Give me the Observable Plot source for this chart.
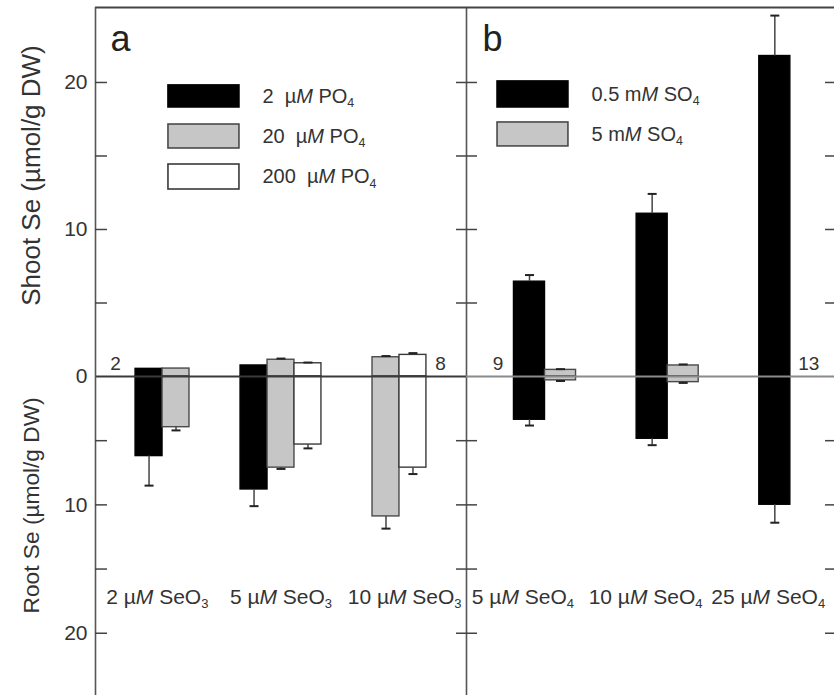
<!DOCTYPE html>
<html><head><meta charset="utf-8">
<script src="https://cdn.jsdelivr.net/npm/d3@7"></script>
<script src="https://cdn.jsdelivr.net/npm/@observablehq/plot@0.6"></script>
<style>
body{margin:0;background:#fff;}
#chart{position:relative;width:834px;height:695px;overflow:hidden;}
#chart svg{position:absolute;top:0;}
</style></head><body><div id="chart"></div>
<script>
// ---------------- data ----------------
// Panel a: selenite treatments x phosphate levels
const groupsA = ["2 µM SeO₃", "5 µM SeO₃", "10 µM SeO₃"];
const seriesA = ["2\u00a0 µM PO₄", "20\u00a0 µM PO₄", "200\u00a0 µM PO₄"];
// [series][group], null = no bar
const shootA    = [[0.52, 0.75, null], [0.54, 1.14, 1.31], [null, 0.90, 1.47]];
const shootA_se = [[0, 0, null],       [0, 0.08, 0.08],    [null, 0.05, 0.12]];
const rootA     = [[6.2, 8.8, null],   [3.95, 7.1, 10.9],  [null, 5.3, 7.1]];
const rootA_se  = [[2.3, 1.3, null],   [0.25, 0.1, 0.95],  [null, 0.3, 0.5]];
const countsA   = ["2", "8"];

// Panel b: selenate treatments x sulfate levels
const groupsB = ["5 µM SeO₄", "10 µM SeO₄", "25 µM SeO₄"];
const seriesB = ["0.5 mM SO₄", "5 mM SO₄"];
const shootB    = [[6.45, 11.07, 21.8], [0.45, 0.75, null]];
const shootB_se = [[0.45, 1.35, 2.75],  [0.05, 0.07, null]];
const rootB     = [[3.37, 4.85, 9.99],  [0.30, 0.44, null]];
const rootB_se  = [[0.45, 0.50, 1.40],  [0.05, 0.06, null]];
const countsB   = ["9", "13"];

const tickValues  = [-20, -15, -10, -5, 5, 10, 15, 20];   // root values negative
const labelValues = [-20, -10, 0, 10, 20];
const shootTitle = "Shoot Se (µmol/g DW)";
const rootTitle  = "Root Se (µmol/g DW)";

// ---------------- styles / layout ----------------
const FONT = '"Liberation Sans", Arial, Helvetica, sans-serif';
const TXT = "#333";
const fills   = ["#000000", "#c6c6c6", "#ffffff"];
const strokes = ["#000000", "#4a4a4a", "#3a3a3a"];
const H = 695;
const Y_DOMAIN = [-24.85, 0, 25.1];   // shoot up, root down (distorted scan: different px/unit)
const Y_RANGE  = [695, 376, 7];

function rows(series, groups, shoot, shootSe, root, rootSe) {
  const out = [];
  series.forEach((s, si) => groups.forEach((g, gi) => {
    if (shoot[si][gi] == null) return;
    out.push({si, gi, shoot: shoot[si][gi], shootSe: shootSe[si][gi], root: root[si][gi], rootSe: rootSe[si][gi]});
  }));
  return out;
}

function panel(cfg) {
  const {groups, series, data, L, width, marginLeft, marginRight, letter, letterDx, counts, left} = cfg;
  const plotW = width - marginLeft - marginRight;
  const cx = d => L.start + d.gi * L.step + (d.si - L.k) * L.w;
  const hw = L.w / 2;
  const cap = 4.5 / (plotW / 3);
  const shootErr = data.filter(d => d.shootSe > 0);
  const rootErr = data.filter(d => d.rootSe > 0);
  const legendRows = series.map((s, i) => ({s, i}));
  const marks = [
    // bars
    Plot.rect(data, {x1: d => cx(d) - hw, x2: d => cx(d) + hw, y1: 0, y2: d => d.shoot,
      fill: d => fills[d.si], stroke: d => strokes[d.si], strokeWidth: 1.4}),
    Plot.rect(data, {x1: d => cx(d) - hw, x2: d => cx(d) + hw, y1: 0, y2: d => -d.root,
      fill: d => fills[d.si], stroke: d => strokes[d.si], strokeWidth: 1.4}),
    // error bars
    Plot.ruleX(shootErr, {x: cx, y1: d => d.shoot, y2: d => d.shoot + d.shootSe, stroke: "#444", strokeWidth: 1.5}),
    Plot.link(shootErr, {x1: d => cx(d) - cap, x2: d => cx(d) + cap, y1: d => d.shoot + d.shootSe, y2: d => d.shoot + d.shootSe, stroke: "#222", strokeWidth: 2}),
    Plot.ruleX(rootErr, {x: cx, y1: d => -d.root, y2: d => -(d.root + d.rootSe), stroke: "#444", strokeWidth: 1.5}),
    Plot.link(rootErr, {x1: d => cx(d) - cap, x2: d => cx(d) + cap, y1: d => -(d.root + d.rootSe), y2: d => -(d.root + d.rootSe), stroke: "#222", strokeWidth: 2}),
    // zero line
    Plot.ruleY([0], {stroke: left ? "#3a3a3a" : "#8a8a8a", strokeWidth: 2}),
    // frame lines
    Plot.ruleY([Y_DOMAIN[2]], {stroke: "#444", strokeWidth: 2}),
    left ? Plot.ruleX([0, 3], {stroke: "#555", strokeWidth: 1.6}) : null,
    // inward ticks, left and right edges
    Plot.ruleY(tickValues, {y: d => d, insetRight: plotW - (left ? 12 : 11), stroke: "#444", strokeWidth: 1.5}),
    Plot.ruleY(tickValues, {y: d => d, insetLeft: plotW - (left ? 10 : 9), stroke: "#444", strokeWidth: 1.5}),
    // legend
    Plot.rect(legendRows, {x1: L.lx1, x2: L.lx2, y1: d => L.ly[d.i][0], y2: d => L.ly[d.i][1],
      fill: d => fills[d.i], stroke: d => strokes[d.i], strokeWidth: 1.6}),
    Plot.text(legendRows, {x: L.tx, y: d => (L.ly[d.i][0] + L.ly[d.i][1]) / 2, text: d => d.s,
      textAnchor: "start", fontSize: 20, fill: TXT, fontFamily: FONT}),
    // group labels
    Plot.text(groups, {x: (d, i) => i + 0.5 + L.labelShift, frameAnchor: "bottom", dy: -92, text: d => d,
      fontSize: 21, fill: TXT, fontFamily: FONT}),
    // counts on the zero line
    Plot.text(counts, {x: (d, i) => L.countX[i], y: 0, dy: -13, text: d => d, fontSize: 19, fill: TXT, fontFamily: FONT}),
    // panel letter
    Plot.text([letter], {frameAnchor: "top-left", dx: letterDx, dy: 18, lineAnchor: "top", text: d => d,
      fontSize: 36, fill: "#222", fontFamily: FONT})
  ];
  if (left) {
    marks.push(
      Plot.text(labelValues, {frameAnchor: "left", y: d => d, text: d => String(Math.abs(d)), dx: -8,
        textAnchor: "end", fontSize: 21, fill: TXT, fontFamily: FONT}),
      Plot.text([shootTitle], {frameAnchor: "left", y: () => 13.67, text: d => d, rotate: -90, dx: -64,
        textAnchor: "middle", fontSize: 26, fill: TXT, fontFamily: FONT}),
      Plot.text([rootTitle], {frameAnchor: "left", y: () => -10.04, text: d => d, rotate: -90, dx: -64,
        textAnchor: "middle", fontSize: 22.7, fill: TXT, fontFamily: FONT})
    );
  }
  return Plot.plot({
    width, height: H, marginLeft, marginRight, marginTop: 7, marginBottom: 0,
    x: {type: "linear", domain: [0, 3], axis: null},
    y: {type: "linear", domain: Y_DOMAIN, range: Y_RANGE, axis: null},
    style: {background: "transparent", overflow: "visible", fontFamily: FONT},
    marks: marks.filter(Boolean)
  });
}

function richify(svg) {
  for (const t of svg.querySelectorAll("text")) {
    const s = t.textContent;
    if (!/[₃₄]|[µm]M/.test(s)) continue;
    t.textContent = "";
    const add = (str, attrs = {}) => {
      const sp = document.createElementNS("http://www.w3.org/2000/svg", "tspan");
      for (const k in attrs) sp.setAttribute(k, attrs[k]);
      sp.textContent = str;
      t.appendChild(sp);
    };
    for (const p of s.split(/([µm]M|[₃₄])/)) {
      if (!p) continue;
      if (/^[µm]M$/.test(p)) { add(p[0]); add("M", {"font-style": "italic"}); }
      else if (p === "₃" || p === "₄") add(p === "₃" ? "3" : "4", {"font-size": "62%", "dy": "0.35em"});
      else add(p);
    }
  }
}

const dataA = rows(seriesA, groupsA, shootA, shootA_se, rootA, rootA_se);
const dataB = rows(seriesB, groupsB, shootB, shootB_se, rootB, rootB_se);

const svgA = panel({
  groups: groupsA, series: seriesA, data: dataA, width: 470, marginLeft: 95, marginRight: 4,
  letter: "a", letterDx: 15, counts: countsA, left: true,
  L: {start: 0.651, step: 0.849, w: 0.218, k: 1, labelShift: 0,
      lx1: 0.59, lx2: 1.164, tx: 1.35, ly: [[18.3, 19.8], [15.51, 17.14], [12.72, 14.42]],
      countX: [0.162, 2.79]}
});
const svgB = panel({
  groups: groupsB, series: seriesB, data: dataB, width: 372, marginLeft: 4, marginRight: 0,
  letter: "b", letterDx: 16, counts: countsB, left: false,
  L: {start: 0.64, step: 1.0, w: 0.253, k: 0.5, labelShift: -0.04,
      lx1: 0.253, lx2: 0.831, tx: 1.019, ly: [[18.3, 20.07], [15.65, 17.28]],
      countX: [0.257, 2.79]}
});
svgA.style.left = "0px";
svgB.style.left = "462px";
richify(svgA); richify(svgB);
const chart = document.getElementById("chart");
chart.appendChild(svgA);
chart.appendChild(svgB);
</script></body></html>
